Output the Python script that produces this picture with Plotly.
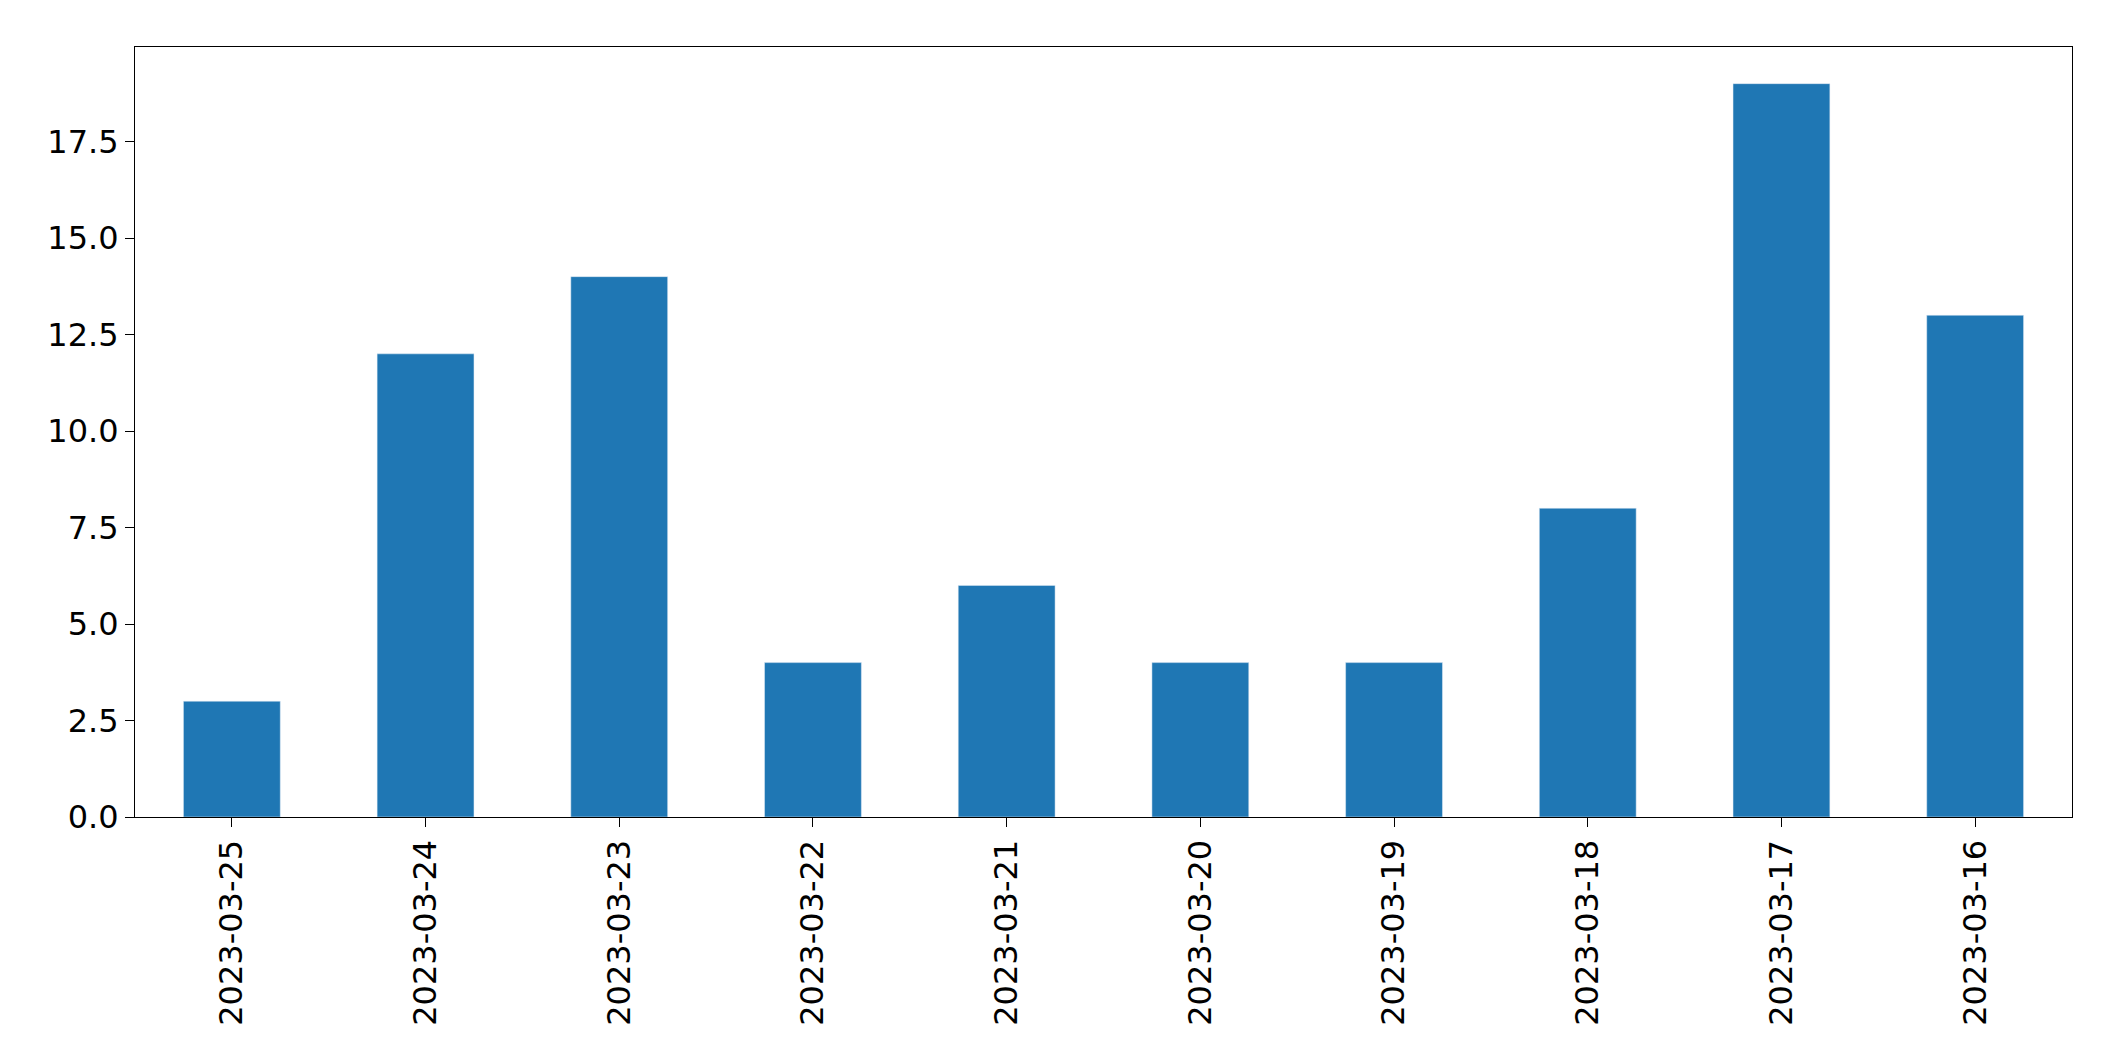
import plotly.graph_objects as go

dates = ["2023-03-25","2023-03-24","2023-03-23","2023-03-22","2023-03-21",
         "2023-03-20","2023-03-19","2023-03-18","2023-03-17","2023-03-16"]
counts = [3, 12, 14, 4, 6, 4, 4, 8, 19, 13]
yticks = [0, 2.5, 5, 7.5, 10, 12.5, 15, 17.5]
ytext = ["0.0","2.5","5.0","7.5","10.0","12.5","15.0","17.5"]

fig = go.Figure(go.Bar(x=dates, y=counts, marker_color="#1f77b4", width=0.5))
fig.update_layout(
    width=2104, height=1061,
    margin=dict(l=127, r=40, t=39, b=252),
    plot_bgcolor="white", paper_bgcolor="white",
    font=dict(family="DejaVu Sans", size=32, color="black"),
    showlegend=False,
)
fig.update_xaxes(type="category", range=[-0.5, 9.5], tickangle=-90,
                 showline=True, linecolor="black", mirror=True,
                 ticks="outside", ticklen=9, tickcolor="black", showgrid=False)
fig.update_yaxes(range=[0, 19.95], tickvals=yticks, ticktext=ytext,
                 showline=True, linecolor="black", mirror=True,
                 ticks="outside", ticklen=9, tickcolor="black",
                 showgrid=False, zeroline=False)
fig.write_html("out.html")
